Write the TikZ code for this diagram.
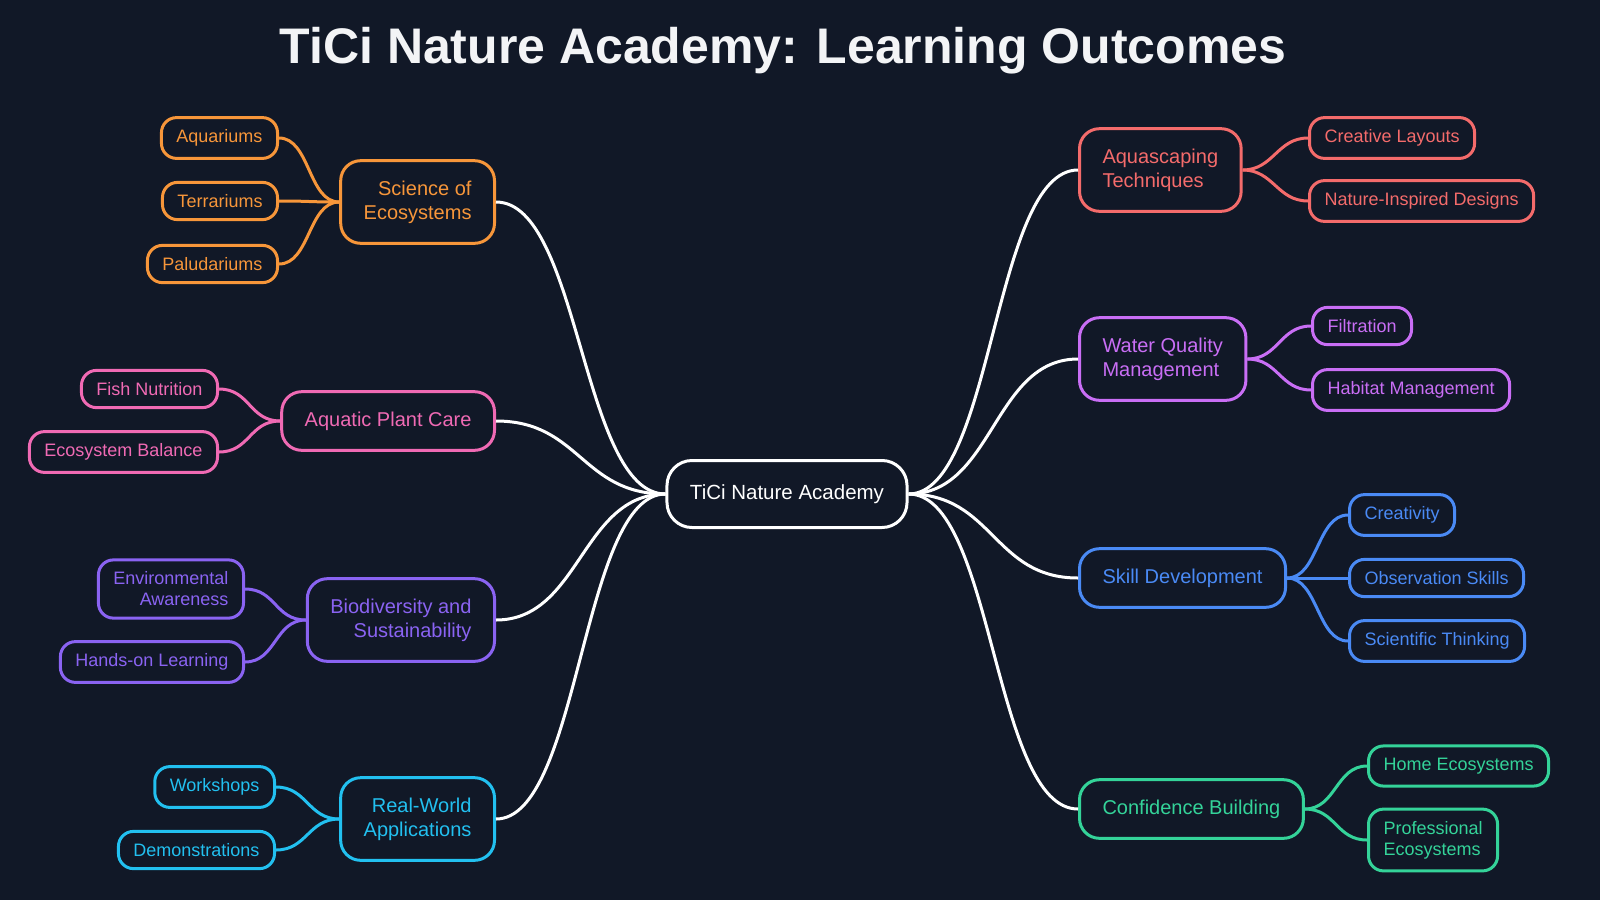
\documentclass[tikz,border=0pt]{standalone}
\usepackage{fontspec}
\setmainfont{Liberation Sans}
\definecolor{bg}{HTML}{111827}
\definecolor{titleC}{HTML}{F3F4F6}
\definecolor{orangeC}{HTML}{F7963A}
\definecolor{redC}{HTML}{F46B6B}
\definecolor{purpleC}{HTML}{C96EF5}
\definecolor{pinkC}{HTML}{F06AB4}
\definecolor{violetC}{HTML}{8A63F2}
\definecolor{cyanC}{HTML}{22C0F0}
\definecolor{blueC}{HTML}{4A8AF5}
\definecolor{greenC}{HTML}{34D399}
\begin{document}
\begin{tikzpicture}[x=1pt, y=-1pt,
    every node/.style={draw, line width=3pt, fill=bg},
    tint/.style={draw=#1, text=#1},
    root/.style={draw=white, text=white, rounded corners=25pt, inner xsep=23pt, minimum height=67pt, font=\fontsize{20.5}{24}\selectfont},
    topic/.style={rounded corners=20pt, inner xsep=23pt, inner ysep=20pt, font=\fontsize{20}{24}\selectfont},
    leaf/.style={rounded corners=15pt, inner xsep=15pt, inner ysep=12pt, font=\fontsize{18}{21}\selectfont},
    trunk/.style={white, line width=3pt},
    twig/.style={line width=3pt}]
    \useasboundingbox (0,0) rectangle (1600,900);
    \fill[bg] (0,0) rectangle (1600,900);
    \node[draw=none, fill=none, text=titleC, font=\fontsize{50}{60}\selectfont\bfseries] (title) at (783,51) {TiCi Nature Academy: Learning Outcomes};
    % centre
    \node[root] (root) at (787,494) {TiCi Nature Academy};
    % left topics
    \node[topic, tint=orangeC, anchor=east, align=right] (sci) at (496,202) {Science of\\Ecosystems};
    \node[topic, tint=pinkC, anchor=east, align=right] (plant) at (496,421) {Aquatic Plant Care};
    \node[topic, tint=violetC, anchor=east, align=right] (bio) at (496,620) {Biodiversity and\\Sustainability};
    \node[topic, tint=cyanC, anchor=east, align=right] (real) at (496,819) {Real-World\\Applications};
    % right topics
    \node[topic, tint=redC, anchor=west, align=left] (aqua) at (1078,170) {Aquascaping\\Techniques};
    \node[topic, tint=purpleC, anchor=west, align=left] (water) at (1078,359) {Water Quality\\Management};
    \node[topic, tint=blueC, anchor=west, align=left] (skill) at (1078,578) {Skill Development};
    \node[topic, tint=greenC, anchor=west, align=left] (conf) at (1078,809) {Confidence Building};
    % left leaves
    \node[leaf, tint=orangeC, anchor=east] (aquar) at (279,138) {Aquariums};
    \node[leaf, tint=orangeC, anchor=east] (terra) at (279,201) {Terrariums};
    \node[leaf, tint=orangeC, anchor=east] (palu) at (279,264) {Paludariums};
    \node[leaf, tint=pinkC, anchor=east] (fish) at (219,389) {Fish Nutrition};
    \node[leaf, tint=pinkC, anchor=east] (balance) at (219,452) {Ecosystem Balance};
    \node[leaf, tint=violetC, anchor=east, align=right] (env) at (245,589) {Environmental\\Awareness};
    \node[leaf, tint=violetC, anchor=east] (hands) at (245,662) {Hands-on Learning};
    \node[leaf, tint=cyanC, anchor=east] (work) at (276,787) {Workshops};
    \node[leaf, tint=cyanC, anchor=east] (demo) at (276,850) {Demonstrations};
    % right leaves
    \node[leaf, tint=redC, anchor=west] (layouts) at (1308,138) {Creative Layouts};
    \node[leaf, tint=redC, anchor=west] (designs) at (1308,201) {Nature-Inspired Designs};
    \node[leaf, tint=purpleC, anchor=west] (filt) at (1311,326) {Filtration};
    \node[leaf, tint=purpleC, anchor=west] (habitat) at (1311,390) {Habitat Management};
    \node[leaf, tint=blueC, anchor=west] (creat) at (1348,515) {Creativity};
    \node[leaf, tint=blueC, anchor=west] (observ) at (1348,578) {Observation Skills};
    \node[leaf, tint=blueC, anchor=west] (scient) at (1348,641) {Scientific Thinking};
    \node[leaf, tint=greenC, anchor=west] (home) at (1367,766) {Home Ecosystems};
    \node[leaf, tint=greenC, anchor=west, align=left] (prof) at (1367,840) {Professional\\Ecosystems};
    % links
    \foreach \t in {sci,plant,bio,real}
        \draw[trunk] (root.west) .. controls +(-84,0) and +(84,0) .. (\t.east);
    \foreach \t in {aqua,water,skill,conf}
        \draw[trunk] (root.east) .. controls +(85,0) and +(-85,0) .. (\t.west);
    \foreach \p/\l/\c in {sci/aquar/orangeC, sci/terra/orangeC, sci/palu/orangeC, plant/fish/pinkC, plant/balance/pinkC, bio/env/violetC, bio/hands/violetC, real/work/cyanC, real/demo/cyanC}
        \draw[twig, \c] (\p.west) .. controls +(-31,0) and +(31,0) .. (\l.east);
    \foreach \p/\l/\c in {aqua/layouts/redC, aqua/designs/redC, water/filt/purpleC, water/habitat/purpleC, skill/creat/blueC, skill/observ/blueC, skill/scient/blueC, conf/home/greenC, conf/prof/greenC}
        \draw[twig, \c] (\p.east) .. controls +(31,0) and +(-31,0) .. (\l.west);
\end{tikzpicture}
\end{document}
